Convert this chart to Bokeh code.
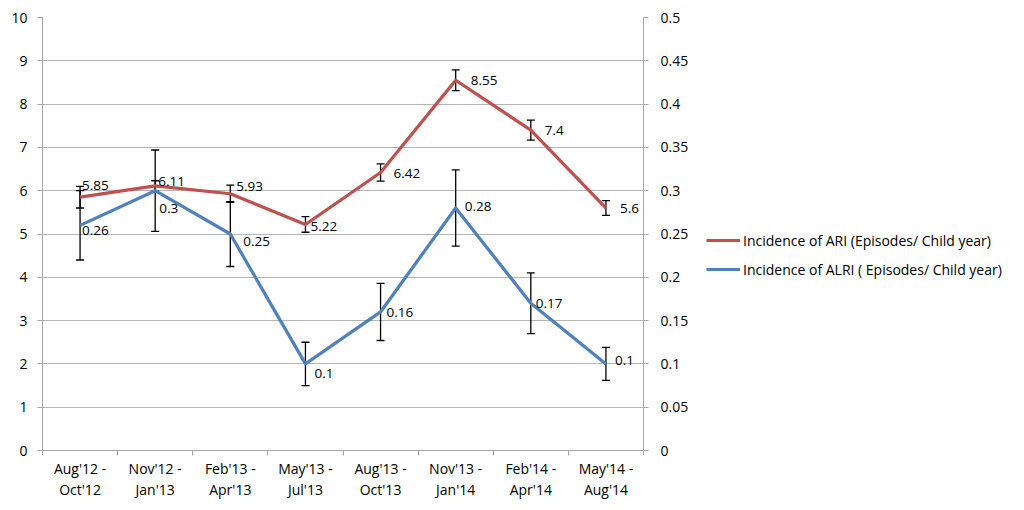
from bokeh.plotting import figure
from bokeh.layouts import row
from bokeh.models import (Range1d, LinearAxis, FixedTicker, NumeralTickFormatter,
                          Whisker, TeeHead, ColumnDataSource, Legend, LegendItem)
from bokeh.core.properties import value
from bokeh.embed import file_html
from bokeh.resources import INLINE

# ---- data ----
periods = ["Aug'12 -\nOct'12", "Nov'12 -\nJan'13", "Feb'13 -\nApr'13", "May'13 -\nJul'13",
           "Aug'13 -\nOct'13", "Nov'13 -\nJan'14", "Feb'14 -\nApr'14", "May'14 -\nAug'14"]
ari = [5.85, 6.11, 5.93, 5.22, 6.42, 8.55, 7.4, 5.6]
ari_err = [0.25, 0.12, 0.2, 0.18, 0.2, 0.24, 0.23, 0.17]
alri = [0.26, 0.3, 0.25, 0.1, 0.16, 0.28, 0.17, 0.1]
alri_err = [0.04, 0.047, 0.0375, 0.025, 0.033, 0.044, 0.035, 0.019]
left_ticks = [0, 1, 2, 3, 4, 5, 6, 7, 8, 9, 10]
right_ticks = [0, 0.05, 0.1, 0.15, 0.2, 0.25, 0.3, 0.35, 0.4, 0.45, 0.5]
ari_name = "Incidence of ARI (Episodes/ Child year)"
alri_name = "Incidence of ALRI ( Episodes/ Child year)"

# label nudges in screen pixels (data-label placement)
ari_dx = [2, 3, 6, 5, 13, 15, 14, 14]
ari_dy = [-12, -4, -7, 2, 1, 0, 0, 0]
alri_dx = [2, 4, 13, 9, 6, 9, 5, 9]
alri_dy = [5, 18, 7, 10, 1, -2, 0, -3]

RED = "#C0504D"
BLUE = "#4F81BD"
GRID = "#b5b5b5"
AXIS = "#a6a6a6"
FONT = "Open Sans"
H = 505

n = len(periods)
xs = [i + 0.5 for i in range(n)]

src_ari = ColumnDataSource(dict(
    x=xs, y=ari,
    upper=[v + e for v, e in zip(ari, ari_err)],
    lower=[v - e for v, e in zip(ari, ari_err)],
    lbl=[f"{v:g}" for v in ari], dx=ari_dx, dy=ari_dy))
src_alri = ColumnDataSource(dict(
    x=xs, y=alri,
    upper=[v + e for v, e in zip(alri, alri_err)],
    lower=[v - e for v, e in zip(alri, alri_err)],
    lbl=[f"{v:g}" for v in alri], dx=alri_dx, dy=alri_dy))

p = figure(width=691, height=H, output_backend="svg", toolbar_location=None,
           x_range=Range1d(0, n), y_range=Range1d(left_ticks[0], left_ticks[-1]),
           min_border_left=42, min_border_right=45, min_border_top=17, min_border_bottom=55)
p.outline_line_color = None
p.background_fill_color = "white"
p.extra_y_ranges = {"alri": Range1d(right_ticks[0], right_ticks[-1])}

# axes
p.xaxis.ticker = FixedTicker(ticks=xs, minor_ticks=list(range(n + 1)))
p.xaxis.major_label_overrides = {x: lab for x, lab in zip(xs, periods)}
p.xaxis.major_tick_line_color = None
p.xaxis.minor_tick_line_color = AXIS
p.xaxis.minor_tick_out = 5
p.xaxis.minor_tick_in = 0
p.xaxis.axis_line_color = AXIS
p.xaxis.major_label_standoff = 2
p.xaxis.major_label_text_font = FONT
p.xaxis.major_label_text_font_size = "14px"
p.xaxis.major_label_text_color = "#000000"
p.xaxis.major_label_text_line_height = 1.15

p.yaxis.ticker = FixedTicker(ticks=left_ticks)
p.yaxis.minor_tick_line_color = None
p.yaxis.major_tick_out = 5
p.yaxis.major_tick_in = 0
p.yaxis.major_tick_line_color = AXIS
p.yaxis.axis_line_color = AXIS
p.yaxis.major_label_standoff = 10
p.yaxis.major_label_text_font = FONT
p.yaxis.major_label_text_font_size = "14px"
p.yaxis.major_label_text_color = "#000000"

raxis = LinearAxis(y_range_name="alri", ticker=FixedTicker(ticks=right_ticks),
                   formatter=NumeralTickFormatter(format="0.[00]"))
raxis.minor_tick_line_color = None
raxis.major_tick_out = 5
raxis.major_tick_in = 0
raxis.major_tick_line_color = AXIS
raxis.axis_line_color = AXIS
raxis.major_label_standoff = 12
raxis.major_label_text_font = FONT
raxis.major_label_text_font_size = "14px"
raxis.major_label_text_color = "#000000"
p.add_layout(raxis, "right")

p.xgrid.grid_line_color = None
p.ygrid.grid_line_color = GRID
p.ygrid.grid_line_width = 1

# lines
r_ari = p.line("x", "y", source=src_ari, line_color=RED, line_width=3.2, line_join="round")
r_alri = p.line("x", "y", source=src_alri, line_color=BLUE, line_width=3.2, line_join="round",
                y_range_name="alri")

# error bars
for src, rng in ((src_ari, "default"), (src_alri, "alri")):
    w = Whisker(source=src, base="x", upper="upper", lower="lower", dimension="height",
                line_color="black", line_width=1.3,
                upper_head=TeeHead(size=8, line_color="black", line_width=1.3),
                lower_head=TeeHead(size=8, line_color="black", line_width=1.3),
                y_range_name=rng)
    p.add_layout(w)

# data labels
p.text("x", "y", text="lbl", source=src_ari, x_offset="dx", y_offset="dy",
       text_font=value(FONT), text_font_size="13.5px", text_color="black",
       text_align="left", text_baseline="middle")
p.text("x", "y", text="lbl", source=src_alri, x_offset="dx", y_offset="dy",
       text_font=value(FONT), text_font_size="13.5px", text_color="black",
       text_align="left", text_baseline="middle", y_range_name="alri")

# legend panel (separate blank figure to the right of the chart)
lg = figure(width=317, height=H, output_backend="svg", toolbar_location=None,
            x_axis_type=None, y_axis_type=None, min_border=0,
            x_range=Range1d(0, 1), y_range=Range1d(0, 1))
lg.outline_line_color = None
lg.xgrid.grid_line_color = None
lg.ygrid.grid_line_color = None
nan = float("nan")
k_ari = lg.line(x=[nan], y=[nan], line_color=RED, line_width=3.2)
k_alri = lg.line(x=[nan], y=[nan], line_color=BLUE, line_width=3.2)
legend = Legend(items=[LegendItem(label=ari_name, renderers=[k_ari]),
                       LegendItem(label=alri_name, renderers=[k_alri])],
                location=(15, 171), orientation="vertical",
                glyph_width=34, glyph_height=20, spacing=9, padding=0, margin=0,
                label_standoff=3, label_text_font=FONT, label_text_font_size="14px",
                label_text_color="black", border_line_color=None,
                background_fill_alpha=0)
lg.add_layout(legend, "center")

layout = row(p, lg)
open("out.html", "w").write(file_html(layout, INLINE))
